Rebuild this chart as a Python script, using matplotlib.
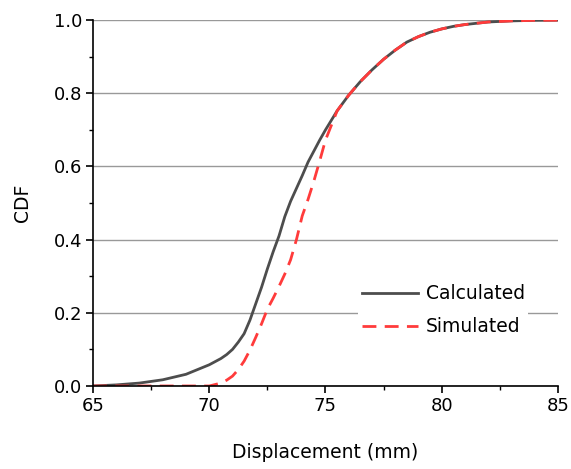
import matplotlib
matplotlib.use("Agg")
import matplotlib.pyplot as plt
from matplotlib.ticker import MultipleLocator

# Displacement grid (mm)
disp = [65, 66, 67, 68, 69, 69.5, 70, 70.5, 70.75, 71, 71.25, 71.5, 71.75, 72,
        72.25, 72.5, 72.75, 73, 73.25, 73.5, 73.75, 74, 74.25, 74.5, 74.75, 75,
        75.5, 76, 76.5, 77, 77.5, 78, 78.5, 79, 79.5, 80, 80.5, 81, 82, 83, 84, 85]

# CDF values
calculated = [0.000, 0.003, 0.008, 0.017, 0.032, 0.045, 0.058, 0.075, 0.086, 0.100,
              0.120, 0.143, 0.180, 0.225, 0.270, 0.320, 0.367, 0.410, 0.463, 0.505,
              0.540, 0.575, 0.612, 0.642, 0.672, 0.700, 0.752, 0.795, 0.832, 0.864,
              0.893, 0.918, 0.940, 0.955, 0.967, 0.976, 0.983, 0.988, 0.995, 0.998,
              0.9995, 1.000]
simulated = [0.000, 0.000, 0.000, 0.000, 0.000, 0.000, 0.000, 0.008, 0.016, 0.027,
             0.045, 0.068, 0.098, 0.133, 0.170, 0.210, 0.240, 0.272, 0.306, 0.345,
             0.400, 0.465, 0.510, 0.560, 0.615, 0.672, 0.752, 0.795, 0.832, 0.864,
             0.893, 0.918, 0.940, 0.955, 0.967, 0.976, 0.983, 0.988, 0.995, 0.998,
             0.9995, 1.000]

plt.rcParams['font.family'] = ['DejaVu Sans']

fig = plt.figure(figsize=(5.71, 4.69), dpi=100)
ax = fig.add_axes([0.163, 0.177, 0.814, 0.780])

ax.plot(disp, calculated, color='#4d4d4d', linewidth=2.0, label='Calculated', zorder=3)
ax.plot(disp, simulated, color='#ff3b3b', linewidth=2.0, linestyle=(0, (5.0, 3.0)),
        label='Simulated', zorder=4)

ax.set_xlim(65, 85)
ax.set_ylim(0, 1.0)
ax.xaxis.set_major_locator(MultipleLocator(5))
ax.xaxis.set_minor_locator(MultipleLocator(2.5))
ax.yaxis.set_minor_locator(MultipleLocator(0.1))
ax.set_yticks([0.0, 0.2, 0.4, 0.6, 0.8, 1.0])
ax.set_yticklabels(['0.0', '0.2', '0.4', '0.6', '0.8', '1.0'])

ax.grid(axis='y', which='major', color='#999999', linewidth=1.0, zorder=0)
ax.set_axisbelow(True)
for s in ['top', 'right']:
    ax.spines[s].set_visible(False)
for s in ['left', 'bottom']:
    ax.spines[s].set_linewidth(1.2)
    ax.spines[s].set_zorder(5)

ax.tick_params(which='major', direction='out', length=5, width=1.2, labelsize=13, pad=3)
ax.tick_params(which='minor', direction='out', length=3, width=1.0)

ax.set_xlabel('Displacement (mm)', fontsize=13.5, labelpad=20)
ax.set_ylabel('CDF', fontsize=13.5, labelpad=15.5)

leg = ax.legend(loc='center left', bbox_to_anchor=(0.55, 0.207), fontsize=13.5,
                frameon=True, framealpha=1, edgecolor='none', facecolor='white',
                handlelength=3.0, handletextpad=0.4, labelspacing=0.75, borderpad=0.2)
leg.get_frame().set_linewidth(0)

fig.savefig('out.png', dpi=100)
